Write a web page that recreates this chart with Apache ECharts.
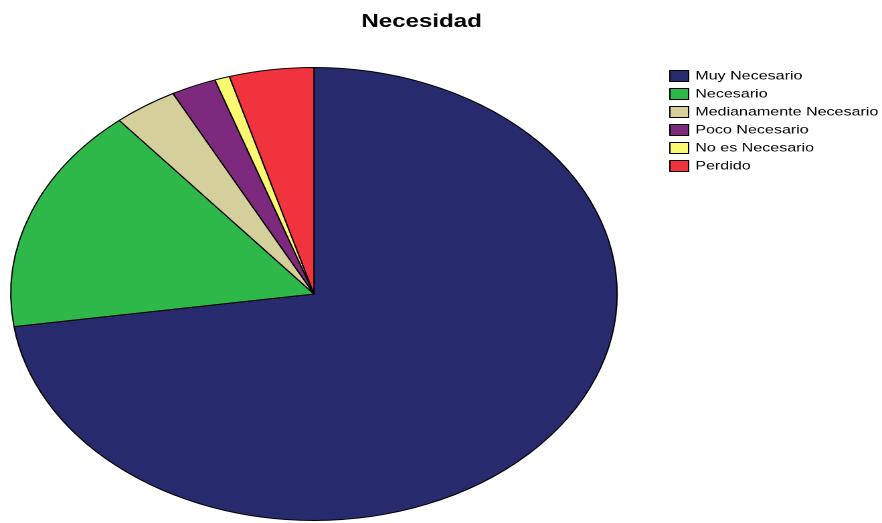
<!DOCTYPE html>
<html>
<head>
<meta charset="utf-8">
<script src="https://cdn.jsdelivr.net/npm/echarts@6/dist/echarts.min.js"></script>
<style>
html,body{margin:0;padding:0;background:#fff;overflow:hidden;width:882px;height:523px;}
#chart{position:absolute;left:0;top:0;width:659px;height:523px;transform:scaleX(1.33839);transform-origin:0 0;}
</style>
</head>
<body>
<div id="chart"></div>
<script>
const categories = ['Muy Necesario', 'Necesario', 'Medianamente Necesario', 'Poco Necesario', 'No es Necesario', 'Perdido'];
const values = [72.7, 16.2, 3.4, 2.4, 0.8, 4.5];
const colors = ['#282A6E', '#2EB849', '#D4CF9B', '#7D2A7E', '#FBF972', '#F0333C'];
const titleText = 'Necesidad';

const chart = echarts.init(document.getElementById('chart'), null, {devicePixelRatio: 2});
chart.setOption({
  animation: false,
  textStyle: {fontFamily: 'Liberation Sans, Arial, sans-serif'},
  title: {
    text: titleText,
    left: 270,
    top: 13,
    padding: 0,
    textStyle: {fontSize: 18, fontWeight: 'bold', color: '#000', fontFamily: 'Liberation Sans, Arial, sans-serif'}
  },
  legend: {
    orient: 'vertical',
    left: 500,
    top: 70,
    padding: 0,
    itemWidth: 14,
    itemHeight: 11,
    itemGap: 6,
    icon: 'rect',
    itemStyle: {borderColor: '#000', borderWidth: 1},
    textStyle: {fontSize: 12, color: '#000', lineHeight: 12, fontFamily: 'Liberation Sans, Arial, sans-serif'},
    data: categories
  },
  series: [{
    type: 'pie',
    center: [234.6, 294],
    radius: 226.5,
    startAngle: 90,
    clockwise: true,
    label: {show: false},
    labelLine: {show: false},
    emphasis: {disabled: true},
    itemStyle: {borderColor: '#000', borderWidth: 1},
    data: categories.map((c, i) => ({name: c, value: values[i], itemStyle: {color: colors[i]}}))
  }]
});
</script>
</body>
</html>
